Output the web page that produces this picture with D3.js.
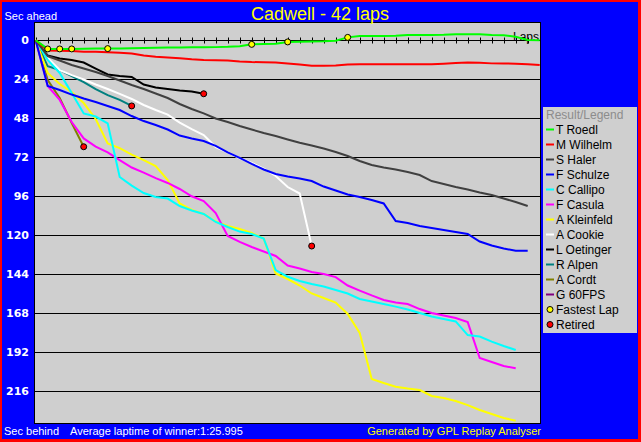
<!DOCTYPE html>
<html><head><meta charset="utf-8">
<script src="https://cdn.jsdelivr.net/npm/d3@7"></script>
<style>html,body{margin:0;padding:0;background:#0000ff;}svg{display:block;}</style>
</head><body>
<svg id="c" width="641" height="442"></svg>
<script>
const title = "Cadwell - 42 laps";
const totalLaps = 42;
const yTicks = [0,24,48,72,96,120,144,168,192,216];
const drivers = ["T Roedl","M Wilhelm","S Haler","F Schulze","C Callipo","F Casula","A Kleinfeld","A Cookie","L Oetinger","R Alpen","A Cordt","G 60FPS"];
const colors = ["#00ff00","#ff0000","#404040","#0000ff","#00ffff","#ff00ff","#ffff00","#ffffff","#000000","#008080","#808000","#800080"];
// seconds behind per lap (lap 0..n)
const roedl = [0,5.3,5.3,5.3,5.2,5.1,5.1,5.0,4.9,4.7,4.6,4.5,4.4,4.3,4.3,4.2,4.0,3.6,2.5,2.3,2.1,1.0,0.9,0.7,0.6,0.3,-1.8,-2.6,-2.6,-2.7,-2.8,-3.2,-3.2,-3.3,-3.4,-3.7,-3.7,-3.7,-3.2,-3.1,-2.2,-0.2,0];
const wilhelm = [0,6.3,6.4,6.6,7.0,7.0,7.3,7.6,8.1,9.4,10.1,10.6,11.1,11.7,12.1,12.3,12.4,13.0,13.4,13.5,13.7,14.3,14.9,15.6,15.6,15.5,14.9,14.8,14.8,14.8,14.7,14.7,14.7,14.7,14.4,14.0,13.7,13.8,14.2,14.3,14.4,14.7,15.2];
const haler = [0,9.7,12.4,15.2,17.4,19.5,22,24.7,27.5,30,32.7,35.5,39.2,42.3,45,48.1,50.3,52.7,54.9,57,58.9,61,63,64.7,66.6,68.7,71.2,74.3,76.7,78.3,79.5,81,82.9,86.6,88.4,90.3,91.8,93.7,95.2,97.4,99.5,102];
const schulze = [0,28.1,30.6,33.4,35.8,38,40.4,42.9,46.6,49.7,52.1,54.9,58.6,60.4,62,65,69,72.4,76.1,79.5,82.3,83.8,85,86.6,90,92.4,94.9,96.4,98.3,100.4,111.2,112.4,114.3,115.5,116.7,118,119.2,123.8,126.3,128.1,129.5,129.5];
const callipo = [0,12.1,20.1,32.4,45,46.9,51.2,84.1,89.4,94,96.4,97.4,102,104.7,106.9,111.8,114.9,117.7,119.2,122,141.4,145.5,148.1,150,151.5,153.7,155.8,159.2,160.7,162.3,163.9,165.7,167.8,170,171.5,173,181.4,182.3,185.4,188.1,190.6];
const casula = [0,28.1,36.7,50.3,60.4,65.4,69,73.7,78.3,81.4,84.8,87.8,91.5,96,98.9,106.3,120.4,124.1,127.2,130,132.7,138.6,140.4,142.6,143.8,145.7,150.9,154,157,159.8,161.4,162.3,165.4,167.8,169.4,170.9,173.4,195.5,198,200.4,201.8];
const kleinfeld = [0,20.1,26.9,31.8,38.6,48.4,63.5,66.3,70.3,73.7,77.4,86,100.4,104.4,106.9,111.5,114.3,116.1,118.6,122,143.5,146.9,150.9,155.8,158.6,161.4,168.4,180.1,208.4,210.9,213.2,214.3,215.2,218.9,220.1,222,224.5,227.5,230,232.4,234.1];
const cookie = [0,10.9,18.3,21.4,24.1,27.2,30,33,36.1,39.8,42.9,45.7,50.6,54.6,58.3,65.7,69,72.6,75.5,78.9,83.5,90.3,94.3,126.6];
const oetinger = [0,9.4,11.2,12.1,13.7,17.4,21,22,22.6,27.2,29,30,30.9,31.5,32.9];
const alpen = [0,16,18.3,22,25.7,30,33.7,36.7,40.4];
const cordt = [0,24.4,35.5,50.9,65.5];
const fps60 = [];
const series = [roedl,wilhelm,haler,schulze,callipo,casula,kleinfeld,cookie,oetinger,alpen,cordt,fps60];
const fastestLaps = [1,2,3,6,18,21,26]; // laps, set by T Roedl
const retiredIdx = [7,8,9,10]; // Cookie, Oetinger, Alpen, Cordt

const svg = d3.select("#c");
const W = 641, H = 442;
svg.append("rect").attr("width",W).attr("height",H).attr("fill","#ff0000");
svg.append("rect").attr("x",2).attr("y",2).attr("width",W-5).attr("height",H-5).attr("fill","#0000ff");

const P = {l:34, t:22, r:540, b:423};
const x = d3.scaleLinear().domain([0,totalLaps]).range([35.7,539.7]);
const y = d3.scaleLinear().domain([0,216]).range([40.3,391.3]);

svg.append("rect").attr("x",P.l+0.5).attr("y",P.t+0.5).attr("width",P.r-P.l).attr("height",P.b-P.t)
  .attr("fill","#cfcfcf").attr("stroke","#000").attr("stroke-width",1);

// gridlines
const grid = svg.append("g").attr("transform",`translate(${P.l},0)`)
  .call(d3.axisRight(y).tickValues(yTicks.slice(1)).tickSize(P.r-P.l).tickFormat(""));
grid.select(".domain").remove();
grid.selectAll("line").attr("stroke","#000").attr("shape-rendering","crispEdges");

// zero axis with lap ticks
const y0 = Math.round(y(0))+0.5;
svg.append("line").attr("x1",P.l).attr("x2",P.r).attr("y1",y0).attr("y2",y0).attr("stroke","#000");
const laps = d3.range(0,totalLaps);
svg.append("g").selectAll("line").data(laps).join("line")
  .attr("x1",d=>Math.round(x(d))+0.5).attr("x2",d=>Math.round(x(d))+0.5)
  .attr("y1",y0-3).attr("y2",y0+3).attr("stroke","#000");
svg.append("text").attr("x",539).attr("y",y0).attr("text-anchor","end")
  .attr("font-family","Liberation Sans, Arial").attr("font-size",12).attr("fill","#000").text("Laps");

// y labels
const yl = svg.append("g").attr("transform",`translate(${P.l},0)`)
  .call(d3.axisLeft(y).tickValues(yTicks).tickSize(0).tickPadding(5));
yl.select(".domain").remove();
yl.selectAll("text").attr("fill","#fff").attr("font-family","DejaVu Sans").attr("font-weight","bold").attr("font-size",11);

// lines
const line = d3.line().x((d,i)=>x(i)).y(d=>y(d));
const clip = svg.append("clipPath").attr("id","pc").append("rect").attr("x",P.l+1).attr("y",P.t+1).attr("width",P.r-P.l-1).attr("height",P.b-P.t-1);
const lg = svg.append("g").attr("clip-path","url(#pc)");
// draw in reverse so leader on top
for (let i = series.length-1; i>=0; i--) {
  if (!series[i].length) continue;
  lg.append("path").attr("d",line(series[i])).attr("fill","none").attr("stroke",colors[i]).attr("stroke-width",2).attr("stroke-linejoin","miter");
}
// retired markers
retiredIdx.forEach(i=>{
  const s = series[i], k = s.length-1;
  svg.append("circle").attr("cx",x(k)).attr("cy",y(s[k])).attr("r",3).attr("fill","#ff0000").attr("stroke","#000").attr("stroke-width",1);
});
// fastest lap markers
svg.append("g").selectAll("circle").data(fastestLaps).join("circle")
  .attr("cx",d=>x(d)).attr("cy",d=>y(roedl[d])).attr("r",3).attr("fill","#ffff00").attr("stroke","#000").attr("stroke-width",1);

// texts
const f = "Liberation Sans, Arial, sans-serif";
svg.append("text").attr("x",320).attr("y",20).attr("text-anchor","middle").attr("font-family",f).attr("font-size",18).attr("fill","#ffff00").text(title);
svg.append("text").attr("x",4.5).attr("y",19.5).attr("font-family",f).attr("font-size",11).attr("fill","#fff").text("Sec ahead");
svg.append("text").attr("x",4).attr("y",435).attr("font-family",f).attr("font-size",11).attr("fill","#fff").text("Sec behind");
svg.append("text").attr("x",70).attr("y",435).attr("font-family",f).attr("font-size",11).attr("fill","#fff").text("Average laptime of winner:1:25.995");
svg.append("text").attr("x",541).attr("y",435).attr("text-anchor","end").attr("font-family",f).attr("font-size",11).attr("fill","#ffff00").text("Generated by GPL Replay Analyser");

// legend
const L = svg.append("g");
L.append("rect").attr("x",543).attr("y",107).attr("width",94).attr("height",226).attr("fill","#cfcfcf");
L.append("text").attr("x",546).attr("y",118.5).attr("font-family",f).attr("font-size",12).attr("fill","#8c8c8c").text("Result/Legend");
const items = L.selectAll("g.it").data(drivers).join("g").attr("class","it")
  .attr("transform",(d,i)=>`translate(0,${133.5+15*i})`);
items.append("line").attr("x1",546).attr("x2",554).attr("y1",-4).attr("y2",-4).attr("stroke",(d,i)=>colors[i]).attr("stroke-width",2);
items.append("text").attr("x",556).attr("y",0).attr("font-family",f).attr("font-size",12).attr("fill","#000").text(d=>d);
const extra = [{name:"Fastest Lap",c:"#ffff00"},{name:"Retired",c:"#ff0000"}];
const ex = L.selectAll("g.ex").data(extra).join("g").attr("class","ex")
  .attr("transform",(d,i)=>`translate(0,${133.5+15*(drivers.length+i)})`);
ex.append("circle").attr("cx",550).attr("cy",-4).attr("r",3).attr("fill",d=>d.c).attr("stroke","#000");
ex.append("text").attr("x",556).attr("y",0).attr("font-family",f).attr("font-size",12).attr("fill","#000").text(d=>d.name);
</script>
</body></html>
